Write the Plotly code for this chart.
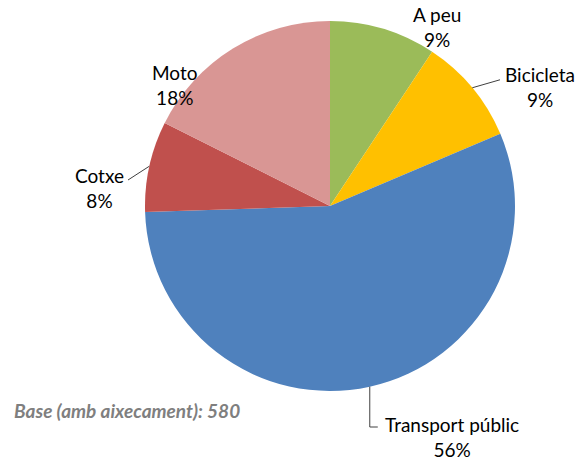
import math
import plotly.graph_objects as go

# counts out of the base of 580 respondents
labels = ["A peu", "Bicicleta", "Transport públic", "Cotxe", "Moto"]
values = [54, 54, 324, 46, 102]
base_n = 580

COLORS = ["#9BBB59", "#FFC000", "#4F81BD", "#C0504D", "#D99694"]
FONT = "Lato, Liberation Sans, sans-serif"
W, H = 578, 460
CX, CY, R = 330, 206, 185  # pie centre / radius in pixels

# label block centres (px) and whether a leader line is drawn
label_pos = [(437, 27, False), (540, 87, True), (452, 437, True), (100, 188, True), (175, 85, False)]


def px(x, y):
    return x / W, 1 - y / H


fig = go.Figure(go.Pie(
    labels=labels, values=values, sort=False, direction="clockwise", rotation=0,
    marker=dict(colors=COLORS, line=dict(width=0)),
    textinfo="none", hoverinfo="label+percent", showlegend=False,
    domain=dict(x=[(CX - R) / W, (CX + R) / W], y=[1 - (CY + R) / H, 1 - (CY - R) / H]),
))

total = sum(values)
cum = 0
annotations, shapes = [], []
for lab, v, (lx, ly, leader) in zip(labels, values, label_pos):
    mid = (cum + v / 2) / total * 2 * math.pi
    cum += v
    pct = round(v / total * 100)
    x, y = px(lx, ly)
    annotations.append(dict(x=x, y=y, xref="paper", yref="paper", text=f"{lab}<br>{pct}%",
                            showarrow=False, font=dict(family=FONT, size=19, color="#000000"),
                            xanchor="center", yanchor="middle"))
    if leader:
        sx, sy = CX + R * math.sin(mid), CY - R * math.cos(mid)
        if sy > CY + R * 0.8:  # bottom label: elbow line
            pts = [(sx, sy), (sx, ly - 10), (sx + 8, ly - 10)]
        elif sx > CX:
            pts = [(sx, sy), (lx - 40, sy - 8)]
        else:
            pts = [(sx, sy), (lx + 28, ly - 8)]
        path = "M " + " L ".join(f"{a / W},{1 - b / H}" for a, b in pts)
        shapes.append(dict(type="path", path=path, xref="paper", yref="paper",
                           line=dict(color="#404040", width=1)))

annotations.append(dict(x=12 / W, y=1 - 410 / H, xref="paper", yref="paper",
                        text=f"<b><i>Base (amb aixecament): {base_n}</i></b>", showarrow=False,
                        xanchor="left", yanchor="middle",
                        font=dict(family=FONT, size=19, color="#7F7F7F")))

fig.update_layout(
    width=W, height=H, margin=dict(l=0, r=0, t=0, b=0),
    paper_bgcolor="white", plot_bgcolor="white",
    annotations=annotations, shapes=shapes,
)
fig.write_html("out.html", config={"displayModeBar": False},
               post_script="document.body.style.margin='0';")
